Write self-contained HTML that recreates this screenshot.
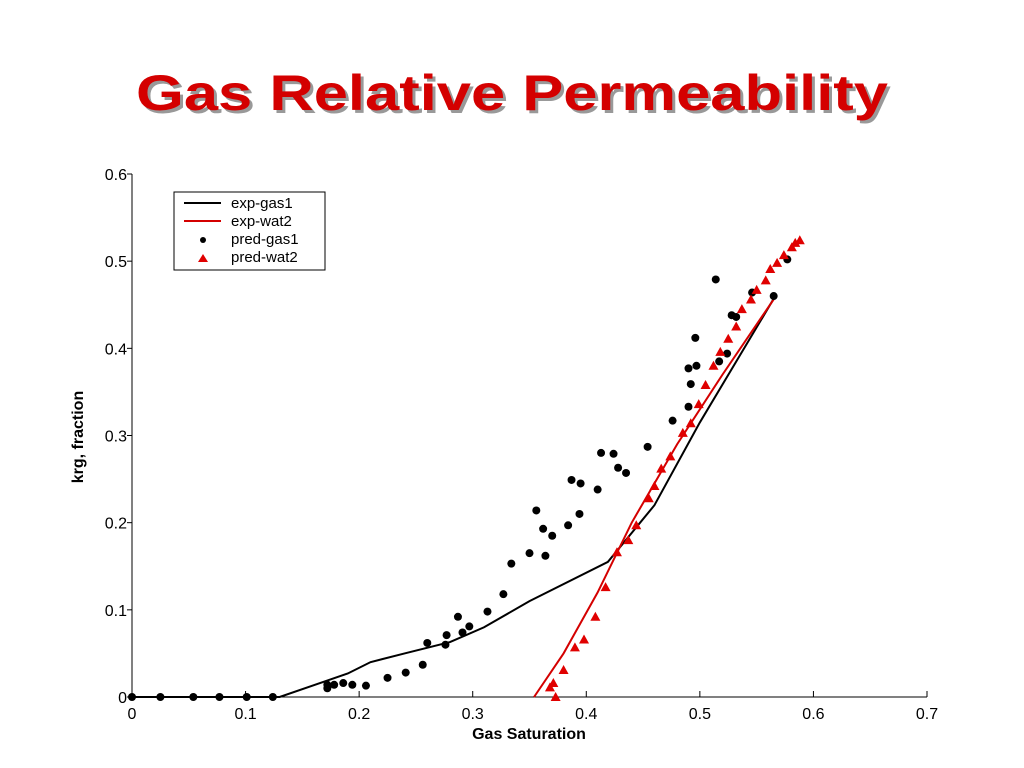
<!DOCTYPE html>
<html><head><meta charset="utf-8"><style>
body{margin:0;background:#fff}
svg{display:block;font-family:"Liberation Sans",Arial,sans-serif}
</style></head><body>
<svg id="chart" width="1024" height="768" viewBox="0 0 1024 768" xmlns="http://www.w3.org/2000/svg">
<g>
<text x="515" y="113" text-anchor="middle" font-size="50" font-weight="bold" fill="#999" textLength="752" lengthAdjust="spacingAndGlyphs">Gas Relative Permeability</text>
<text x="512" y="110" text-anchor="middle" font-size="50" font-weight="bold" fill="#d40000" textLength="752" lengthAdjust="spacingAndGlyphs">Gas Relative Permeability</text>
</g>
<g id="axes"></g>
<g id="marks"></g>
<g>
<rect x="174" y="192" width="151" height="78" fill="#fff" stroke="#000" stroke-width="1"/>
<line x1="184" y1="203" x2="221" y2="203" stroke="#000" stroke-width="2"/>
<text x="231" y="208" font-size="15">exp-gas1</text>
<line x1="184" y1="221" x2="221" y2="221" stroke="#d40000" stroke-width="2"/>
<text x="231" y="226" font-size="15">exp-wat2</text>
<circle cx="203" cy="240" r="3" fill="#000"/>
<text x="231" y="244" font-size="15">pred-gas1</text>
<polygon points="203,254 208,262 198,262" fill="#e00000"/>
<text x="231" y="262" font-size="15">pred-wat2</text>
</g>
<text x="529" y="739" text-anchor="middle" font-size="16" font-weight="bold">Gas Saturation</text>
<text transform="translate(83,437) rotate(-90)" text-anchor="middle" font-size="16" font-weight="bold">krg, fraction</text>
</svg>
<script>
const xTicks=[0,0.1,0.2,0.3,0.4,0.5,0.6,0.7];
const yTicks=[0,0.1,0.2,0.3,0.4,0.5,0.6];
const expGas1X=[0,0.13,0.17,0.19,0.21,0.24,0.28,0.31,0.35,0.419,0.46,0.5,0.566];
const expGas1Y=[0,0,0.018,0.027,0.04,0.05,0.063,0.08,0.11,0.155,0.22,0.315,0.459];
const expWat2X=[0.354,0.38,0.41,0.44,0.48,0.52,0.567];
const expWat2Y=[0,0.05,0.12,0.2,0.29,0.37,0.46];
const predGas1X=[0,0.025,0.054,0.077,0.101,0.124,0.172,0.172,0.178,0.186,0.194,0.206,0.225,0.241,0.256,0.26,0.276,0.277,0.287,0.291,0.297,0.313,0.327,0.334,0.35,0.356,0.362,0.364,0.37,0.384,0.387,0.394,0.395,0.41,0.413,0.424,0.428,0.435,0.454,0.476,0.49,0.492,0.49,0.497,0.496,0.514,0.517,0.524,0.528,0.532,0.546,0.565,0.577];
const predGas1Y=[0,0,0,0,0,0,0.010,0.014,0.014,0.016,0.014,0.013,0.022,0.028,0.037,0.062,0.060,0.071,0.092,0.074,0.081,0.098,0.118,0.153,0.165,0.214,0.193,0.162,0.185,0.197,0.249,0.210,0.245,0.238,0.280,0.279,0.263,0.257,0.287,0.317,0.333,0.359,0.377,0.380,0.412,0.479,0.385,0.394,0.438,0.436,0.464,0.460,0.502];
const predWat2X=[0.373,0.368,0.371,0.38,0.39,0.398,0.408,0.417,0.427,0.437,0.444,0.455,0.46,0.466,0.474,0.485,0.492,0.499,0.505,0.512,0.518,0.525,0.532,0.537,0.545,0.55,0.558,0.562,0.568,0.574,0.581,0.584,0.588];
const predWat2Y=[0,0.011,0.016,0.031,0.057,0.066,0.092,0.126,0.166,0.18,0.197,0.228,0.242,0.262,0.276,0.303,0.314,0.336,0.358,0.380,0.396,0.411,0.425,0.445,0.456,0.467,0.478,0.491,0.498,0.507,0.516,0.521,0.524];

const X0=132,X1=927,Y0=697,Y1=174;
function sx(v){return X0+(v/0.7)*(X1-X0);}
function sy(v){return Y0-(v/0.6)*(Y0-Y1);}
const NS='http://www.w3.org/2000/svg';
function mk(tag,attrs,parent){const e=document.createElementNS(NS,tag);for(const k in attrs)e.setAttribute(k,attrs[k]);parent.appendChild(e);return e;}
const axes=document.getElementById('axes'),marks=document.getElementById('marks');
let a=mk('line',{x1:X0,y1:Y1,x2:X0,y2:Y0,stroke:'#000','stroke-width':1},axes);


a=mk('line',{x1:X0,y1:Y0,x2:X1,y2:Y0,stroke:'#000','stroke-width':1},axes);


xTicks.forEach(t=>{
 const x=sx(t);
 const l=mk('line',{x1:x,y1:Y0,x2:x,y2:Y0-6,stroke:'#000'},axes);
 
 
 const tx=mk('text',{x:x,y:Y0+22,'text-anchor':'middle','font-size':16},axes);
 tx.textContent=String(t);
 
 
});
yTicks.forEach(t=>{
 const y=sy(t);
 const l=mk('line',{x1:X0-5,y1:y,x2:X0,y2:y,stroke:'#000'},axes);
 
 
 const tx=mk('text',{x:X0-5,y:y+6,'text-anchor':'end','font-size':16},axes);
 tx.textContent=String(t);
 
 
});
function pts(xs,ys){return xs.map((v,i)=>sx(v)+','+sy(ys[i])).join(' ');}
let p=mk('polyline',{points:pts(expGas1X,expGas1Y),fill:'none',stroke:'#000','stroke-width':2},marks);


p=mk('polyline',{points:pts(expWat2X,expWat2Y),fill:'none',stroke:'#d40000','stroke-width':2},marks);


predGas1X.forEach((v,i)=>{
 const c=mk('circle',{cx:sx(v),cy:sy(predGas1Y[i]),r:4,fill:'#000'},marks);
 
 
});
predWat2X.forEach((v,i)=>{
 const x=sx(v),y=sy(predWat2Y[i]);
 const t=mk('polygon',{points:`${x},${y-5} ${x+5},${y+4} ${x-5},${y+4}`,fill:'#e00000'},marks);
 
 
});
</script>
</body></html>
